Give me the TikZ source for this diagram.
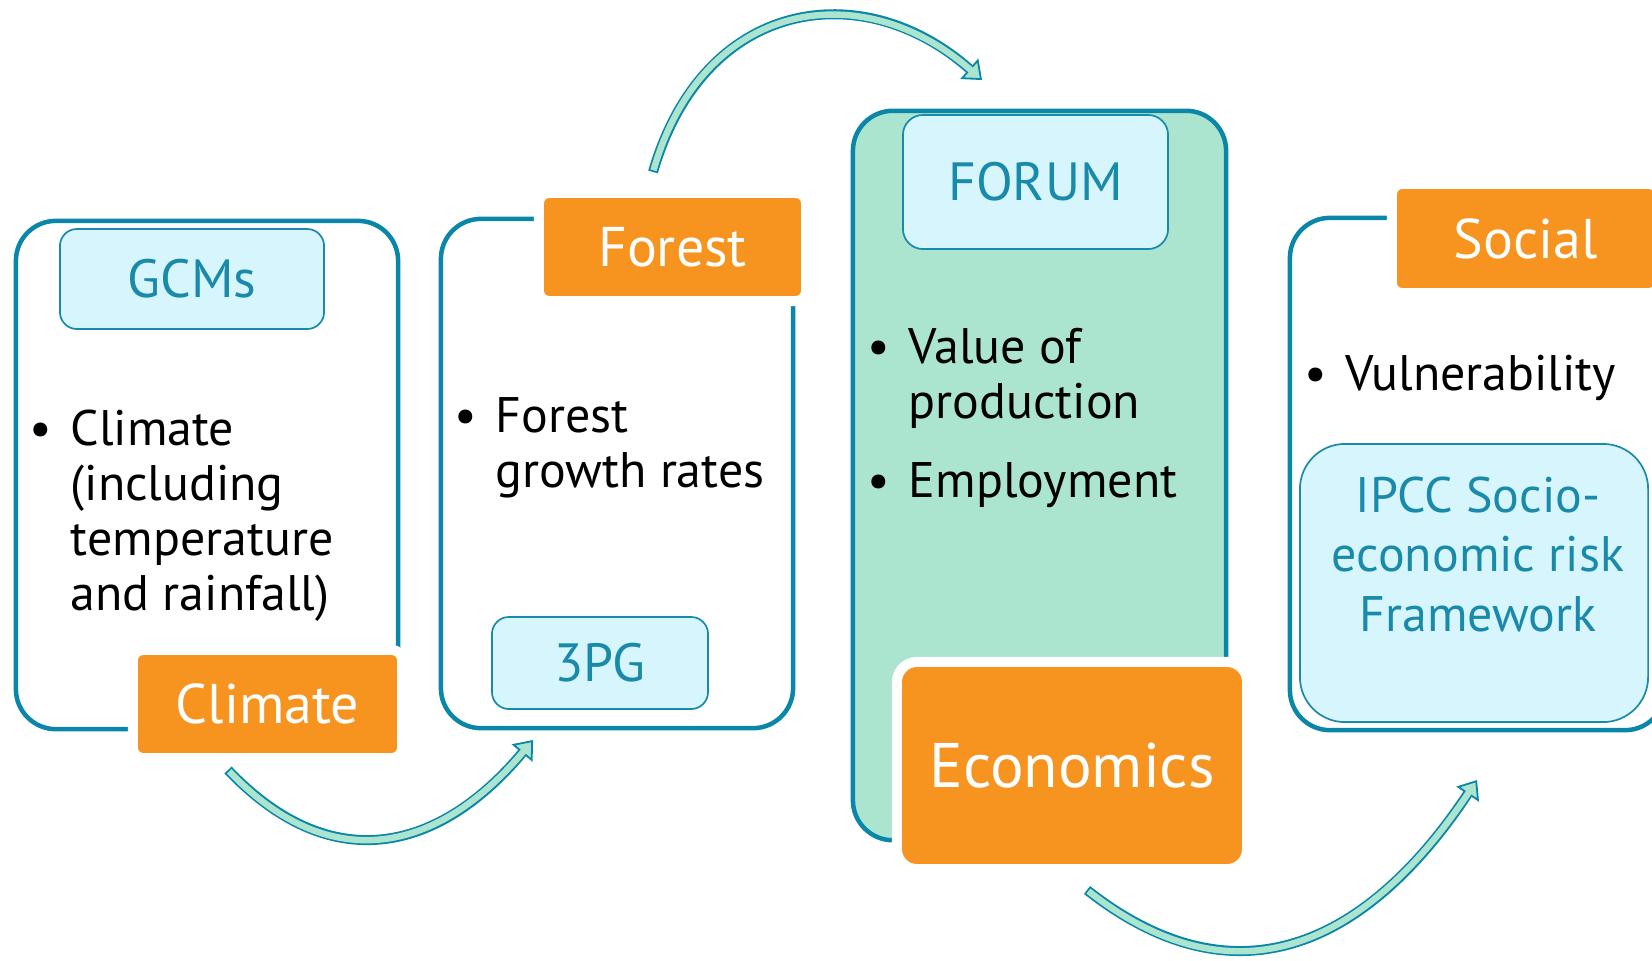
\documentclass[tikz,border=0pt]{standalone}
\usepackage{fontspec}
\setmainfont{PT Sans}
\usetikzlibrary{arrows.meta}

\definecolor{rimblue}{HTML}{0A86A8}
\definecolor{modelblue}{HTML}{1A8AAA}
\definecolor{paleblue}{HTML}{D6F5FD}
\definecolor{mint}{HTML}{ABE4CF}
\definecolor{tagorange}{HTML}{F7931F}

\newcommand{\blt}{\llap{\makebox[17pt]{\textbullet}}}
\newcommand{\bodyfont}{\fontsize{14.2pt}{15.65pt}\selectfont}

\begin{document}
\begin{tikzpicture}[x=0.01cm, y=-0.01cm,
  panel/.style={draw=rimblue, line width=0.045cm, rounded corners=0.4cm},
  model/.style={draw=modelblue, line width=0.017cm, fill=paleblue, text=modelblue, rounded corners=0.17cm, font=\fontsize{15.3pt}{17pt}\selectfont},
  tag/.style={draw=white, line width=0.1cm, fill=tagorange, text=white, rounded corners=0.1cm, font=\fontsize{15.9pt}{18pt}\selectfont},
  bullets/.style={anchor=base west, inner sep=0pt, font=\bodyfont},
  flow/.style={draw=rimblue, line width=0.1cm, -{Triangle[length=0.17cm, width=0.27cm, line width=0.018cm, fill=mint]}},
  flowcore/.style={draw=mint, line width=0.064cm, shorten <=0.018cm, shorten >=0.14cm}]
\useasboundingbox (0,0) rectangle (1652,960);

% outer panels
\node[panel, minimum width=3.82cm, minimum height=5.08cm] (climpanel) at (207,475) {};
\node[panel, minimum width=3.52cm, minimum height=5.09cm] (forestpanel) at (617,473.5) {};
\node[panel, fill=mint, minimum width=3.73cm, minimum height=7.29cm] (econpanel) at (1039.5,475.5) {};
\node[panel, minimum width=3.75cm, minimum height=5.12cm] (socialpanel) at (1477.5,474) {};

% model boxes
\node[model, minimum width=2.64cm, minimum height=1.0cm] (gcms) at (192,279) {GCMs};
\node[model, minimum width=2.16cm, minimum height=0.92cm] (threepg) at (600,663) {3PG};
\node[model, rounded corners=0.2cm, minimum width=2.65cm, minimum height=1.34cm] (forum) at (1035.5,182) {FORUM};
\node[model, rounded corners=0.45cm, minimum width=3.48cm, minimum height=2.78cm] (ipcc) at (1474,583) {};
\node[anchor=base, inner sep=0pt, text=modelblue, font=\fontsize{14.2pt}{17pt}\selectfont] (ipcctext) at (1478,512)
  {\begin{tabular}[t]{@{}c@{}}IPCC Socio-\\economic risk\\Framework\end{tabular}};

% orange tags
\node[tag, minimum width=2.69cm, minimum height=1.08cm] (climtag) at (267.5,704) {Climate};
\node[tag, minimum width=2.67cm, minimum height=1.08cm] (foresttag) at (672.5,247) {Forest};
\node[tag, rounded corners=0.2cm, font=\fontsize{17.9pt}{20pt}\selectfont, minimum width=3.50cm, minimum height=2.07cm] (econtag) at (1072,765.5) {Economics};
\node[tag, minimum width=2.67cm, minimum height=1.09cm] (socialtag) at (1525.5,238.5) {Social};

% bullet lists
\node[bullets] (climlist) at (70,445)
  {\begin{tabular}[t]{@{}l@{}}\blt Climate\\(including\\temperature\\and rainfall)\end{tabular}};
\node[bullets] (forestlist) at (495,432)
  {\begin{tabular}[t]{@{}l@{}}\blt Forest\\growth rates\end{tabular}};
\node[bullets] (econlist) at (908,363)
  {\begin{tabular}[t]{@{}l@{}}\blt Value of\\production\\[7pt]\blt Employment\end{tabular}};
\node[bullets] (sociallist) at (1345,390) {\blt Vulnerability};

% curved flow arrows
\coordinate (a1s) at (228,770);
\coordinate (a1e) at (533,740);
\coordinate (a2s) at (653,172);
\coordinate (a2e) at (982,80);
\coordinate (a3s) at (1087,890);
\coordinate (a3e) at (1477,780);
\draw[flow] (a1s) .. controls (333,880) and (441,850) .. (a1e);
\draw[flowcore] (a1s) .. controls (333,880) and (441,850) .. (a1e);
\draw[flow] (a2s) .. controls (703,-1) and (862,-26) .. (a2e);
\draw[flowcore] (a2s) .. controls (703,-1) and (862,-26) .. (a2e);
\draw[flow] (a3s) .. controls (1241,1011) and (1372,938) .. (a3e);
\draw[flowcore] (a3s) .. controls (1241,1011) and (1372,938) .. (a3e);

\end{tikzpicture}
\end{document}
